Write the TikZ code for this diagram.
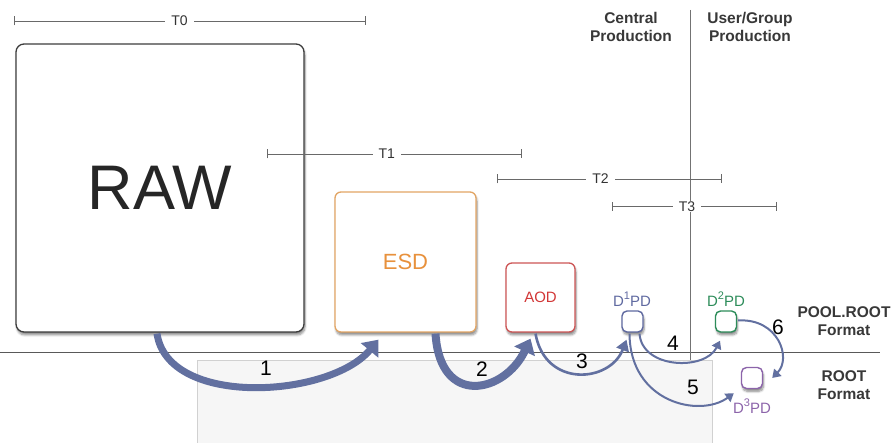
\documentclass[tikz,border=0pt]{standalone}
\usepackage{fontspec}
\setmainfont{Liberation Sans}
\usetikzlibrary{arrows.meta,positioning,shadows.blur}
\definecolor{rawgray}{RGB}{60,60,60}
\definecolor{esdorange}{RGB}{226,165,100}
\definecolor{esdtext}{RGB}{232,145,60}
\definecolor{aodred}{RGB}{205,85,85}
\definecolor{aodtext}{RGB}{210,55,55}
\definecolor{donepd}{RGB}{95,105,160}
\definecolor{dtwopd}{RGB}{45,140,90}
\definecolor{dthreepd}{RGB}{140,100,170}
\definecolor{flowblue}{RGB}{98,112,160}
\definecolor{barline}{RGB}{105,105,105}
\definecolor{lightbg}{RGB}{246,246,246}
\tikzset{
  fmtbox/.style={draw=rawgray,fill=white,rounded corners=8pt,line width=1.3pt,inner sep=0pt,
    blur shadow={shadow xshift=1pt,shadow yshift=-3pt,shadow blur steps=6,shadow opacity=45}},
  esdbox/.style={fmtbox,draw=esdorange,rounded corners=6pt,text=esdtext,font=\fontsize{22}{22}\selectfont},
  aodbox/.style={fmtbox,draw=aodred,rounded corners=6pt,text=aodtext,font=\fontsize{15}{15}\selectfont},
  pdbox/.style={fmtbox,rounded corners=5pt,line width=1.4pt,minimum size=21},
  pdlabel/.style={font=\fontsize{15}{15}\selectfont,inner sep=0pt},
  tbar/.style={draw=barline,line width=0.8pt,{Bar[width=9pt]}-{Bar[width=9pt]}},
  tlabel/.style={fill=white,inner xsep=6pt,inner ysep=1pt,font=\fontsize{14}{14}\selectfont,text=black!80},
  sepline/.style={draw=black!65,line width=0.8pt},
  headtext/.style={align=center,font=\bfseries\fontsize{15.5}{18}\selectfont,text=black!78},
  steplabel/.style={font=\fontsize{21}{21}\selectfont,inner sep=0pt},
  bigflow/.style={draw=flowblue,line width=7pt,-{Triangle[length=14pt,width=22pt]}},
  midflow/.style={draw=flowblue,line width=2.6pt,-{Triangle[length=11pt,width=13pt]}},
  thinflow/.style={draw=flowblue,line width=2pt,-{Triangle[length=8pt,width=10pt]}}
}
\newcommand{\supnum}[1]{\raisebox{0.45em}{\fontsize{11}{11}\selectfont#1}}
\begin{document}
\begin{tikzpicture}[x=1pt,y=1pt]
  \useasboundingbox (0,0) rectangle (891,443);
  % user area and separators
  \fill[lightbg,draw=black!18] (197,-5) rectangle (712,83);
  \draw[sepline] (0,91) -- (880,91);
  \draw[sepline,draw=black!55] (690,433) -- (690,83);

  \node[headtext] (central) at (631,416) {Central\\Production};
  \node[headtext] (usergroup) at (750,416) {User/Group\\Production};
  \node[headtext] (poolroot) at (844,122) {POOL.ROOT\\Format};
  \node[headtext] (rootfmt) at (844,58) {ROOT\\Format};

  % data formats
  \node[fmtbox,minimum size=288,font=\fontsize{63}{63}\selectfont,text=black!85] (raw) at (160,255) {RAW};
  \node[esdbox,minimum width=141,minimum height=140] (esd) at (405.5,181) {ESD};
  \node[aodbox,minimum size=69] (aod) at (540.5,145.5) {AOD};
  \node[pdbox,draw=donepd] (d1pd) at (632.5,121.5) {};
  \node[pdbox,draw=dtwopd] (d2pd) at (726,121.5) {};
  \node[pdbox,draw=dthreepd] (d3pd) at (752,65) {};
  \node[pdlabel,text=donepd] (d1lbl) at (632,144) {D\supnum{1}PD};
  \node[pdlabel,text=dtwopd] (d2lbl) at (726,144) {D\supnum{2}PD};
  \node[pdlabel,text=dthreepd] (d3lbl) at (752,37) {D\supnum{3}PD};

  % time bars
  \coordinate (t0a) at (14,422);  \coordinate (t0b) at (366,422);
  \coordinate (t1a) at (267,289); \coordinate (t1b) at (522,289);
  \coordinate (t2a) at (497,264); \coordinate (t2b) at (722,264);
  \coordinate (t3a) at (612,236.5); \coordinate (t3b) at (777,236.5);
  \draw[tbar] (t0a) -- node[tlabel,pos=.47] (t0) {T0} (t0b);
  \draw[tbar] (t1a) -- node[tlabel,pos=.47] (t1) {T1} (t1b);
  \draw[tbar] (t2a) -- node[tlabel,pos=.46] (t2) {T2} (t2b);
  \draw[tbar] (t3a) -- node[tlabel,pos=.455] (t3) {T3} (t3b);

  % processing steps
  \draw[bigflow] ([xshift=-3pt,yshift=-1pt]raw.south) .. controls (168,35) and (330,45) .. ([xshift=-27pt,yshift=-7pt]esd.south);
  \draw[bigflow,line width=8pt] ([xshift=30pt,yshift=-1pt]esd.south) .. controls (440,35) and (505,50) .. ([xshift=-10pt,yshift=-6pt]aod.south);
  \draw[midflow] ([xshift=-5pt,yshift=-1pt]aod.south) .. controls (545,55) and (610,60) .. ([xshift=-6pt,yshift=-7pt]d1pd.south);
  \draw[thinflow] ([xshift=7pt,yshift=-1pt]d1pd.south) .. controls (642,74) and (705,72) .. ([xshift=-6pt,yshift=-8pt]d2pd.south);
  \draw[thinflow] ([xshift=-3pt,yshift=-1pt]d1pd.south) .. controls (630,40) and (700,25) .. ([xshift=-7pt,yshift=-4pt]d3pd.south west);
  \draw[thinflow] ([xshift=1pt,yshift=1pt]d2pd.east) .. controls (778,125) and (792,85) .. ([xshift=9pt]d3pd.east);

  \node[steplabel] (s1) at (266,75) {1};
  \node[steplabel] (s2) at (482,74) {2};
  \node[steplabel] (s3) at (582,82) {3};
  \node[steplabel] (s4) at (673,100) {4};
  \node[steplabel] (s5) at (693,56) {5};
  \node[steplabel] (s6) at (778,116) {6};
\end{tikzpicture}
\end{document}
